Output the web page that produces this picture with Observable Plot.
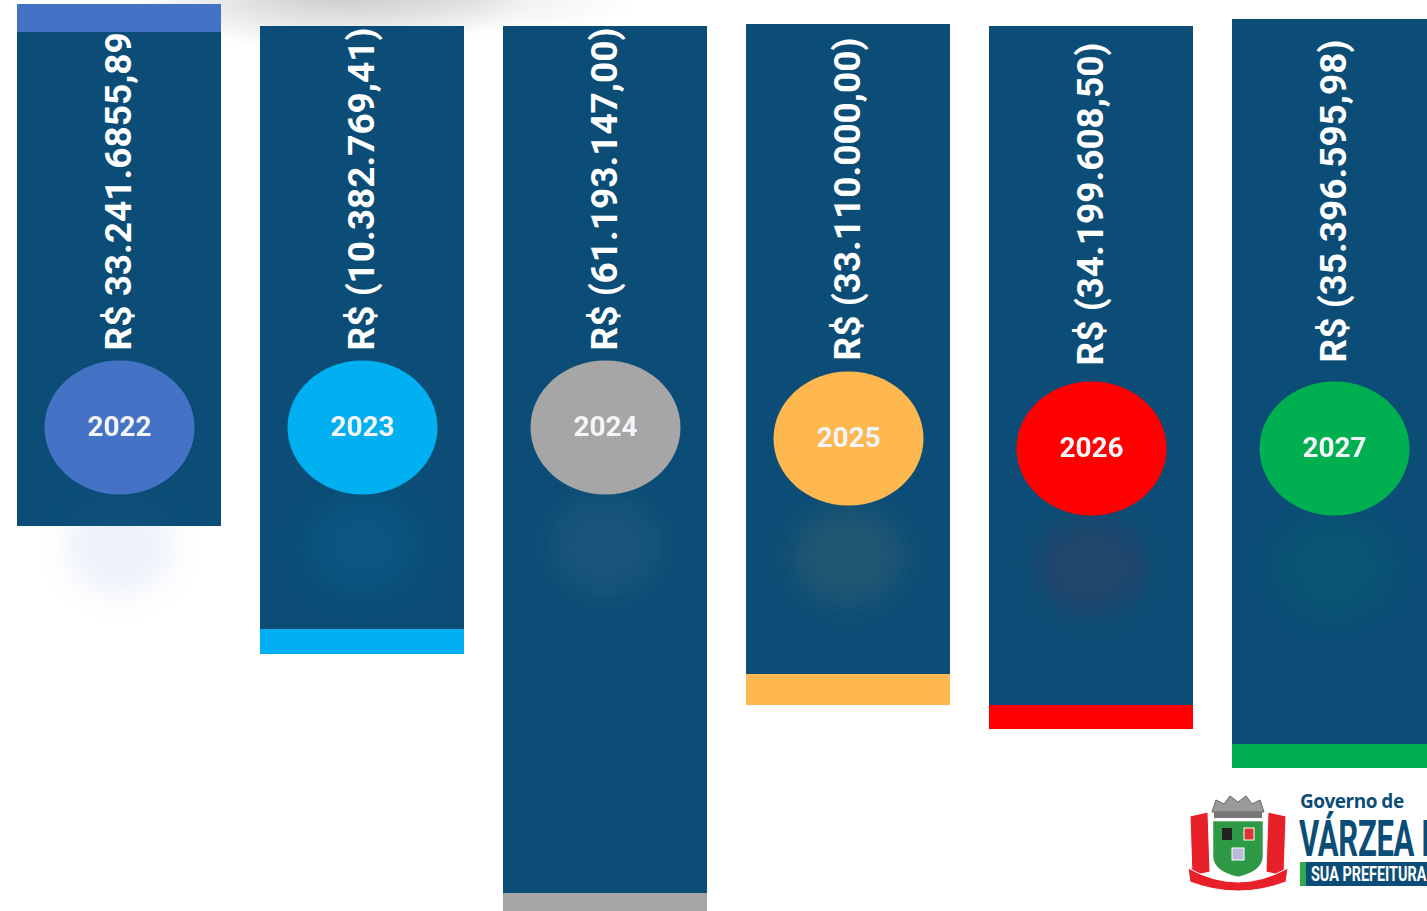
<!DOCTYPE html>
<html>
<head>
<meta charset="utf-8">
<script src="https://cdn.jsdelivr.net/npm/d3@7"></script>
<script src="https://cdn.jsdelivr.net/npm/@observablehq/plot@0.6"></script>
<style>
  html, body { margin: 0; padding: 0; background: #fff; overflow: hidden; width: 1427px; height: 911px; }
  #wrap { position: relative; width: 1427px; height: 911px; overflow: hidden;
    background: radial-gradient(ellipse 200px 55px at 330px -5px, rgba(0,0,0,0.2), rgba(0,0,0,0) 100%),
                radial-gradient(ellipse 160px 35px at 480px 0px, rgba(0,0,0,0.07), rgba(0,0,0,0) 100%); }
  #chart { position: absolute; left: 0; top: 0; }
  #chart svg { max-width: none !important; }
  .glow { filter: blur(14px); }
  #logo { position: absolute; left: 1186px; top: 792px; width: 260px; height: 100px; }
  #logo .gov { position: absolute; left: 114px; top: 0px; height: 19px; font: 700 19px/19px "Open Sans", sans-serif; color: #0b4d76; letter-spacing: -0.5px; white-space: nowrap; }
  #logo .city { position: absolute; left: 113px; top: 27px; height: 40px; font: 700 50px/40px "Roboto", sans-serif; color: #0b4d76; transform: scaleX(0.62); transform-origin: left top; white-space: nowrap; letter-spacing: -0.5px; }
  #logo .box { position: absolute; left: 114px; top: 70px; width: 200px; height: 24px; background: #0b4d76; border-left: 6px solid #2fa84f; }
  #logo .box span { position: absolute; left: 5px; top: 2px; font: 700 20px/20px "Roboto", sans-serif; color: #fff; transform: scaleX(0.72); transform-origin: left top; white-space: nowrap; }
</style>
</head>
<body>
<div id="wrap">
  <div id="chart"></div>
  <div id="logo">
    <svg width="104" height="100" viewBox="0 0 104 100" style="position:absolute;left:0;top:0">
      <path d="M26 20 L30 8 L38 12 L44 4 L52 10 L60 4 L66 12 L74 8 L78 20 Z" fill="#9a9a9a" stroke="#666" stroke-width="1"/>
      <rect x="28" y="20" width="48" height="6" fill="#777"/>
      <path d="M4 24 L22 20 L24 80 L6 84 Z" fill="#e8202a" stroke="#fff" stroke-width="1"/>
      <path d="M100 24 L82 20 L80 80 L98 84 Z" fill="#e8202a" stroke="#fff" stroke-width="1"/>
      <path d="M26 28 L78 28 L78 64 Q78 80 52 86 Q26 80 26 64 Z" fill="#2e9a46" stroke="#fff" stroke-width="2.5"/>
      <rect x="36" y="36" width="10" height="12" fill="#222"/>
      <rect x="58" y="36" width="10" height="12" fill="#d33" stroke="#fff"/>
      <rect x="46" y="56" width="12" height="12" fill="#b9b9d9" stroke="#fff"/>
      <path d="M2 76 Q52 104 102 76 L100 90 Q52 108 4 90 Z" fill="#e8202a" stroke="#fff" stroke-width="1"/>
    </svg>
    <div class="gov">Governo de</div>
    <div class="city">VÁRZEA PAULISTA</div>
    <div class="box"><span>SUA PREFEITURA</span></div>
  </div>
</div>
<script>
// ---- data ----
const years   = ["2022", "2023", "2024", "2025", "2026", "2027"];
const labels  = ["R$ 33.241.6855,89", "R$ (10.382.769,41)", "R$ (61.193.147,00)",
                 "R$ (33.110.000,00)", "R$ (34.199.608,50)", "R$ (35.396.595,98)"];
const colors  = ["#4472c4", "#00b0f0", "#a6a6a6", "#ffb74f", "#ff0000", "#00b050"];
// bar extents (vertical units of the graphic, top → bottom)
const barTop     = [32, 26, 26, 24, 26, 19];
const barBottom  = [526, 629, 893, 674, 705, 744];
// accent stripe: on top for the positive year, at the bottom for the negative ones
const stripeFrom = [4, 629, 893, 674, 705, 744];
const stripeTo   = [32, 654, 918, 705, 729, 768];
// levels of the year badge and of the value label
const badgeLevel = [427, 427, 427, 438, 448, 448];
const labelLevel = [350, 350, 350, 360, 365, 362];

const navy = "#0b4d76";
const rows = years.map((y, i) => ({
  year: y, label: labels[i], color: colors[i],
  top: barTop[i], bottom: barBottom[i],
  s1: stripeFrom[i], s2: stripeTo[i],
  badge: badgeLevel[i], badgeGlow: badgeLevel[i] + 118, labelY: labelLevel[i]
}));

// ellipse symbol (slightly wider than tall)
const ellipse = {
  draw(ctx, size) {
    const r = Math.sqrt(size / Math.PI);
    const rx = r * 75 / 67, ry = r, k = 0.5523;
    ctx.moveTo(rx, 0);
    ctx.bezierCurveTo(rx, k * ry, k * rx, ry, 0, ry);
    ctx.bezierCurveTo(-k * rx, ry, -rx, k * ry, -rx, 0);
    ctx.bezierCurveTo(-rx, -k * ry, -k * rx, -ry, 0, -ry);
    ctx.bezierCurveTo(k * rx, -ry, rx, -k * ry, rx, 0);
    ctx.closePath();
  }
};

const chart = Plot.plot({
  width: 1439,
  height: 911,
  marginTop: 0, marginBottom: 0, marginLeft: 15, marginRight: 0,
  style: { background: "transparent", overflow: "visible", maxWidth: "none" },
  x: { domain: years, paddingInner: 0.16, paddingOuter: 0, axis: null },
  y: { domain: [0, 911], range: [0, 911], axis: null },
  marks: [
    Plot.barY(rows, { x: "year", y1: "top", y2: "bottom", fill: navy }),
    Plot.barY(rows, { x: "year", y1: "s1", y2: "s2", fill: "color" }),
    Plot.dot(rows, { x: "year", y: "badgeGlow", r: 50, symbol: ellipse, fill: "color",
                     fillOpacity: 0.09, className: "glow" }),
    Plot.dot(rows, { x: "year", y: "badge", r: 67, symbol: ellipse, fill: "color" }),
    Plot.text(rows, { x: "year", y: "badge", text: "year", fill: "#f3f5f9",
                      fontSize: 28, fontWeight: "bold", fontFamily: "Roboto" }),
    Plot.text(rows, { x: "year", y: "labelY", text: "label", rotate: -90, textAnchor: "start",
                      fill: "white", fontSize: 37, fontWeight: "bold", fontFamily: "Roboto" })
  ]
});
document.getElementById("chart").appendChild(chart);
</script>
</body>
</html>
